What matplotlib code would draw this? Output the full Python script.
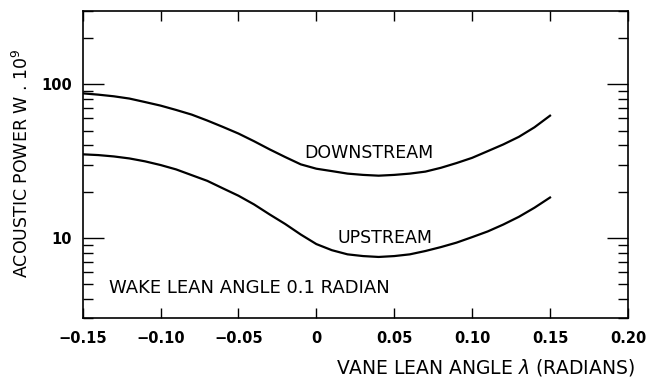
import matplotlib
matplotlib.use("Agg")
import matplotlib.pyplot as plt
from matplotlib.ticker import LogLocator, NullFormatter, FixedLocator

# vane lean angle (radians) and acoustic power (W x 1e9)
vane_angle = [-0.15, -0.14, -0.13, -0.12, -0.11, -0.10, -0.09, -0.08, -0.07, -0.06,
              -0.05, -0.04, -0.03, -0.02, -0.01, 0.0, 0.01, 0.02, 0.03, 0.04,
              0.05, 0.06, 0.07, 0.08, 0.09, 0.10, 0.11, 0.12, 0.13, 0.14, 0.15]
downstream = [87.4, 85.7, 83.6, 80.8, 76.7, 72.7, 68.1, 63.5, 58.1, 52.8,
              47.8, 42.6, 37.7, 33.6, 30.1, 28.2, 27.2, 26.2, 25.7, 25.4,
              25.7, 26.2, 27.0, 28.6, 30.7, 33.2, 36.7, 40.6, 45.5, 52.5, 62.5]
upstream = [35.0, 34.6, 33.9, 32.9, 31.5, 29.8, 27.9, 25.6, 23.5, 21.0,
            18.8, 16.5, 14.2, 12.3, 10.5, 9.1, 8.3, 7.8, 7.6, 7.5,
            7.6, 7.8, 8.2, 8.7, 9.3, 10.1, 11.0, 12.2, 13.7, 15.7, 18.3]

x_ticks = [-0.15, -0.10, -0.05, 0, 0.05, 0.10, 0.15, 0.20]
x_tick_labels = ["\u22120.15", "\u22120.10", "\u22120.05", "0", "0.05", "0.10", "0.15", "0.20"]

fig = plt.figure(figsize=(6.46, 3.85), dpi=100)
ax = fig.add_axes([0.128, 0.174, 0.844, 0.797])

ax.plot(vane_angle, downstream, color="black", lw=1.6)
ax.plot(vane_angle, upstream, color="black", lw=1.6)

ax.set_yscale("log")
ax.set_xlim(-0.15, 0.20)
ax.set_ylim(3, 300)

ax.yaxis.set_major_locator(FixedLocator([10, 100]))
ax.set_yticklabels(["10", "100"])
ax.yaxis.set_minor_locator(LogLocator(base=10, subs=range(2, 10)))
ax.yaxis.set_minor_formatter(NullFormatter())
ax.set_xticks(x_ticks)
ax.set_xticklabels(x_tick_labels)

ax.tick_params(axis="y", which="major", direction="in", length=15, width=1,
               left=True, right=True, labelsize=10.5, pad=8)
ax.tick_params(axis="y", which="minor", direction="in", length=7, width=1,
               left=True, right=True)
ax.tick_params(axis="x", which="major", direction="in", length=7, width=1,
               top=True, bottom=True, labelsize=10.5, pad=9)
for lbl in ax.get_xticklabels() + ax.get_yticklabels():
    lbl.set_fontweight("bold")

for s in ax.spines.values():
    s.set_linewidth(1.2)

ax.text(0.034, 35.6, "DOWNSTREAM", ha="center", va="center", fontsize=12.5)
ax.text(0.044, 10, "UPSTREAM", ha="center", va="center", fontsize=12.5)
ax.text(-0.133, 4.73, "WAKE LEAN ANGLE 0.1 RADIAN", ha="left", va="center", fontsize=13)

fig.text(0.983, 1 - 368 / 385, r"VANE LEAN ANGLE $\lambda$ (RADIANS)",
         ha="right", va="center", fontsize=13.5)
fig.text(22 / 646, 1 - 163 / 385, r"ACOUSTIC POWER W . 10$^9$",
         ha="center", va="center", rotation=90, fontsize=12.5)

fig.savefig("out.png", dpi=100)
